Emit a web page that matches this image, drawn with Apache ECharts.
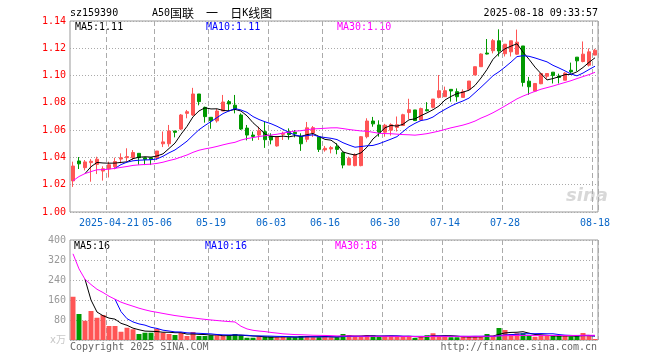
<!DOCTYPE html>
<html><head><meta charset="utf-8">
<script src="https://cdn.jsdelivr.net/npm/echarts@6/dist/echarts.min.js"></script>
<style>html,body{margin:0;padding:0;background:#fff}#c{width:660px;height:360px}</style>
</head><body><div id="c"></div>
<script>
const dates = ['2025-04-11','2025-04-14','2025-04-15','2025-04-16','2025-04-17','2025-04-18','2025-04-21','2025-04-22','2025-04-23','2025-04-24',
'2025-04-25','2025-04-28','2025-04-29','2025-04-30','2025-05-06','2025-05-07','2025-05-08','2025-05-09','2025-05-12','2025-05-13',
'2025-05-14','2025-05-15','2025-05-16','2025-05-19','2025-05-20','2025-05-21','2025-05-22','2025-05-23','2025-05-26','2025-05-27',
'2025-05-28','2025-05-29','2025-05-30','2025-06-03','2025-06-04','2025-06-05','2025-06-06','2025-06-09','2025-06-10','2025-06-11',
'2025-06-12','2025-06-13','2025-06-16','2025-06-17','2025-06-18','2025-06-19','2025-06-20','2025-06-23','2025-06-24','2025-06-25',
'2025-06-26','2025-06-27','2025-06-30','2025-07-01','2025-07-02','2025-07-03','2025-07-04','2025-07-07','2025-07-08','2025-07-09',
'2025-07-10','2025-07-11','2025-07-14','2025-07-15','2025-07-16','2025-07-17','2025-07-18','2025-07-21','2025-07-22','2025-07-23',
'2025-07-24','2025-07-25','2025-07-28','2025-07-29','2025-07-30','2025-07-31','2025-08-01','2025-08-04','2025-08-05','2025-08-06',
'2025-08-07','2025-08-08','2025-08-11','2025-08-12','2025-08-13','2025-08-14','2025-08-15','2025-08-18'];
const tickDates = ['2025-04-21','2025-05-06','2025-05-19','2025-06-03','2025-06-16','2025-06-30','2025-07-14','2025-07-28','2025-08-18'];

const open = [1.0228,1.0374,1.0325,1.0362,1.0349,1.0300,1.0316,1.0332,1.0388,1.0398,
1.0398,1.0430,1.0398,1.0398,1.0396,1.0500,1.0500,1.0594,1.0608,1.0723,
1.0711,1.0865,1.0767,1.0694,1.0668,1.0740,1.0809,1.0783,1.0711,1.0615,
1.0564,1.0564,1.0589,1.0557,1.0484,1.0569,1.0590,1.0584,1.0555,1.0533,
1.0579,1.0550,1.0455,1.0462,1.0479,1.0435,1.0344,1.0340,1.0340,1.0552,
1.0667,1.0638,1.0585,1.0600,1.0620,1.0634,1.0729,1.0748,1.0674,1.0750,
1.0767,1.0840,1.0845,1.0899,1.0882,1.0840,1.0899,1.1004,1.1065,1.1165,
1.1182,1.1255,1.1160,1.1174,1.1157,1.1217,1.0959,1.0886,1.0940,1.0995,
1.1025,1.0996,1.0966,1.1039,1.1135,1.1103,1.1076,1.1150];
const close = [1.0337,1.0353,1.0367,1.0372,1.0387,1.0317,1.0346,1.0370,1.0398,1.0406,
1.0436,1.0398,1.0386,1.0386,1.0447,1.0514,1.0594,1.0584,1.0711,1.0735,
1.0865,1.0809,1.0699,1.0669,1.0740,1.0806,1.0792,1.0754,1.0608,1.0564,
1.0554,1.0595,1.0530,1.0528,1.0552,1.0576,1.0568,1.0574,1.0500,1.0617,
1.0618,1.0459,1.0467,1.0472,1.0459,1.0344,1.0393,1.0420,1.0552,1.0667,
1.0646,1.0585,1.0636,1.0640,1.0640,1.0713,1.0750,1.0670,1.0758,1.0742,
1.0828,1.0889,1.0889,1.0887,1.0845,1.0882,1.0960,1.1065,1.1158,1.1158,
1.1256,1.1180,1.1230,1.1255,1.1245,1.0950,1.0918,1.0942,1.1015,1.1015,
1.1000,1.0986,1.1018,1.1027,1.1108,1.1157,1.1174,1.1186];
const low = [1.0184,1.0315,1.0305,1.0222,1.0278,1.0230,1.0253,1.0313,1.0357,1.0371,
1.0381,1.0346,1.0344,1.0344,1.0381,1.0476,1.0479,1.0547,1.0601,1.0687,
1.0704,1.0782,1.0655,1.0610,1.0655,1.0740,1.0740,1.0723,1.0601,1.0525,
1.0522,1.0528,1.0470,1.0496,1.0479,1.0528,1.0530,1.0547,1.0448,1.0512,
1.0550,1.0440,1.0442,1.0430,1.0423,1.0320,1.0344,1.0335,1.0335,1.0540,
1.0625,1.0552,1.0552,1.0560,1.0590,1.0630,1.0680,1.0668,1.0669,1.0738,
1.0760,1.0833,1.0845,1.0809,1.0809,1.0840,1.0899,1.1004,1.1065,1.1155,
1.1163,1.1140,1.1140,1.1140,1.1152,1.0920,1.0859,1.0879,1.0937,1.0977,
1.0942,1.0942,1.0966,1.1018,1.1033,1.1097,1.1066,1.1150];
const high = [1.0369,1.0403,1.0381,1.0388,1.0405,1.0335,1.0369,1.0398,1.0430,1.0467,
1.0454,1.0430,1.0400,1.0400,1.0447,1.0590,1.0638,1.0594,1.0718,1.0748,
1.0910,1.0865,1.0772,1.0694,1.0755,1.0858,1.0821,1.0858,1.0723,1.0638,
1.0589,1.0625,1.0662,1.0577,1.0552,1.0589,1.0613,1.0601,1.0577,1.0660,
1.0630,1.0557,1.0484,1.0484,1.0503,1.0435,1.0406,1.0430,1.0557,1.0687,
1.0697,1.0672,1.0646,1.0650,1.0700,1.0720,1.0830,1.0748,1.0765,1.0805,
1.0828,1.1004,1.0919,1.0899,1.0906,1.0899,1.0960,1.1065,1.1163,1.1268,
1.1268,1.1339,1.1231,1.1255,1.1337,1.1217,1.0990,1.0943,1.1016,1.1016,
1.1025,1.1014,1.1025,1.1095,1.1135,1.1250,1.1199,1.1196];
const volume = [173,104,77,116,89,100,56,56,33,49,
43,24,29,29,44,29,24,20,29,16,
32,16,16,19,19,16,19,24,19,9,
9,13,13,13,11,13,11,11,16,16,
11,11,16,11,11,24,19,13,13,19,
19,13,16,16,13,13,16,8,13,19,
27,16,13,11,11,13,13,13,13,24,
16,48,40,24,27,27,19,13,19,16,
16,16,16,14,17,28,17,4];
// two sessions before the window, inferred from where the MA lines start
const priorClose = [1.012, 1.023];
const priorVolume = [531, 330];

const RED = '#ff5555', GREEN = '#009900';
const MONO = "'DejaVu Sans Mono', monospace";

function movingAverage(values, prior, n, cumulative) {
  const all = prior.concat(values);
  return values.map((v, k) => {
    const j = k + prior.length;
    const start = j - n + 1;
    if (start < 0 && !cumulative) return null;
    const s = Math.max(0, start);
    let sum = 0;
    for (let t = s; t <= j; t++) sum += all[t];
    return +(sum / (j - s + 1)).toFixed(5);
  });
}
const ma5 = movingAverage(close, priorClose, 5, false);
const ma10 = movingAverage(close, priorClose, 10, false);
const ma30 = movingAverage(close, priorClose, 30, true);
const vma5 = movingAverage(volume, priorVolume, 5, false);
const vma10 = movingAverage(volume, priorVolume, 10, false);
const vma30 = movingAverage(volume, priorVolume, 30, true);

const tickSet = new Set(tickDates.map(d => dates.indexOf(d)));
const showTick = (i) => tickSet.has(i);
const gridLineX = { show: true, interval: showTick, lineStyle: { color: '#aaa', type: [5, 3], width: 1 } };
const gridLineY = { show: true, lineStyle: { color: '#aaa', type: [1, 2], width: 1 } };

const chart = echarts.init(document.getElementById('c'), null, { renderer: 'canvas' });
function txt(x, y, text, fill, align, extra) {
  return { type: 'text', x: x, y: y, silent: true,
    style: Object.assign({ text: text, fill: fill, font: '10px ' + MONO, textAlign: align || 'left', textVerticalAlign: 'middle', verticalAlign: 'middle' }, extra || {}) };
}
chart.setOption({
  animation: false,
  backgroundColor: '#fff',
  grid: [
    { left: 70, top: 21, width: 528, height: 191, show: true, borderColor: '#999', borderWidth: 1 },
    { left: 70, top: 240, width: 528, height: 100, show: true, borderColor: '#999', borderWidth: 1 }
  ],
  xAxis: [
    { type: 'category', gridIndex: 0, data: dates, boundaryGap: true,
      axisLine: { show: false }, axisTick: { show: false },
      axisLabel: { interval: showTick, color: '#0a67c8', fontFamily: MONO, fontSize: 10, margin: 6,
        formatter: (v) => v === '2025-04-21' ? v : v.slice(5) },
      splitLine: gridLineX },
    { type: 'category', gridIndex: 1, data: dates, boundaryGap: true,
      axisLine: { show: false }, axisTick: { show: false }, axisLabel: { show: false },
      splitLine: gridLineX }
  ],
  yAxis: [
    { type: 'value', gridIndex: 0, min: 1.00, max: 1.14, interval: 0.02,
      axisLine: { show: false }, axisTick: { show: false },
      axisLabel: { color: '#ff0000', fontFamily: MONO, fontSize: 10, margin: 4, formatter: (v) => v.toFixed(2) },
      splitLine: gridLineY },
    { type: 'value', gridIndex: 1, min: 0, max: 400, interval: 80,
      axisLine: { show: false }, axisTick: { show: false },
      axisLabel: { color: '#999', fontFamily: MONO, fontSize: 10, margin: 4,
        formatter: (v) => v === 0 ? '{u|x万}' : String(v),
        rich: { u: { color: '#c8c8c8', fontSize: 10, fontFamily: "'DejaVu Sans', 'Noto Sans CJK SC'" } } },
      splitLine: gridLineY }
  ],
  series: [
    { name: 'K', type: 'candlestick', xAxisIndex: 0, yAxisIndex: 0, barWidth: 4,
      data: dates.map((d, i) => [open[i], close[i], low[i], high[i]]),
      itemStyle: { color: RED, color0: GREEN, borderColor: RED, borderColor0: GREEN, borderWidth: 1 } },
    { name: 'MA5', type: 'line', xAxisIndex: 0, yAxisIndex: 0, data: ma5, showSymbol: false, lineStyle: { color: '#000', width: 1 }, z: 5 },
    { name: 'MA10', type: 'line', xAxisIndex: 0, yAxisIndex: 0, data: ma10, showSymbol: false, lineStyle: { color: '#0000ff', width: 1 }, z: 5 },
    { name: 'MA30', type: 'line', xAxisIndex: 0, yAxisIndex: 0, data: ma30, showSymbol: false, lineStyle: { color: '#ff00ff', width: 1 }, z: 5 },
    { name: 'VOL', type: 'bar', xAxisIndex: 1, yAxisIndex: 1, barWidth: 5, data: volume,
      itemStyle: { color: (p) => close[p.dataIndex] >= open[p.dataIndex] ? RED : GREEN } },
    { name: 'VMA5', type: 'line', xAxisIndex: 1, yAxisIndex: 1, data: vma5, showSymbol: false, lineStyle: { color: '#000', width: 1 }, z: 5 },
    { name: 'VMA10', type: 'line', xAxisIndex: 1, yAxisIndex: 1, data: vma10, showSymbol: false, lineStyle: { color: '#0000ff', width: 1 }, z: 5 },
    { name: 'VMA30', type: 'line', xAxisIndex: 1, yAxisIndex: 1, data: vma30, showSymbol: false, lineStyle: { color: '#ff00ff', width: 1 }, z: 5 }
  ],
  graphic: [
    txt(70, 13, 'sz159390', '#000'),
    { type: 'text', x: 152, y: 13, silent: true,
      style: { text: '{a|A50}{c|国联}{a|  }{c|一}{a|  }{c|日}{a|K}{c|线图}', fill: '#000', textVerticalAlign: 'middle', verticalAlign: 'middle',
        rich: { a: { fontFamily: MONO, fontSize: 10, fill: '#000' }, c: { fontFamily: "'Noto Sans CJK SC'", fontSize: 12, fill: '#000' } } } },
    txt(598, 13, '2025-08-18 09:33:57', '#000', 'right'),
    txt(75, 27, 'MA5:1.11', '#000'),
    txt(206, 27, 'MA10:1.11', '#0000ff'),
    txt(337, 27, 'MA30:1.10', '#ff00ff'),
    txt(74, 246, 'MA5:16', '#000'),
    txt(205, 246, 'MA10:16', '#0000ff'),
    txt(335, 246, 'MA30:18', '#ff00ff'),
    txt(70, 347, 'Copyright 2025 SINA.COM', '#666'),
    txt(597, 347, 'http://finance.sina.com.cn', '#666', 'right'),
    { type: 'text', x: 566, y: 196, silent: true, z: 0,
      style: { text: 'sina', fill: '#d8d8d8', font: 'italic bold 18px "DejaVu Sans", sans-serif', textVerticalAlign: 'middle', verticalAlign: 'middle' } }
  ]
});
</script></body></html>
